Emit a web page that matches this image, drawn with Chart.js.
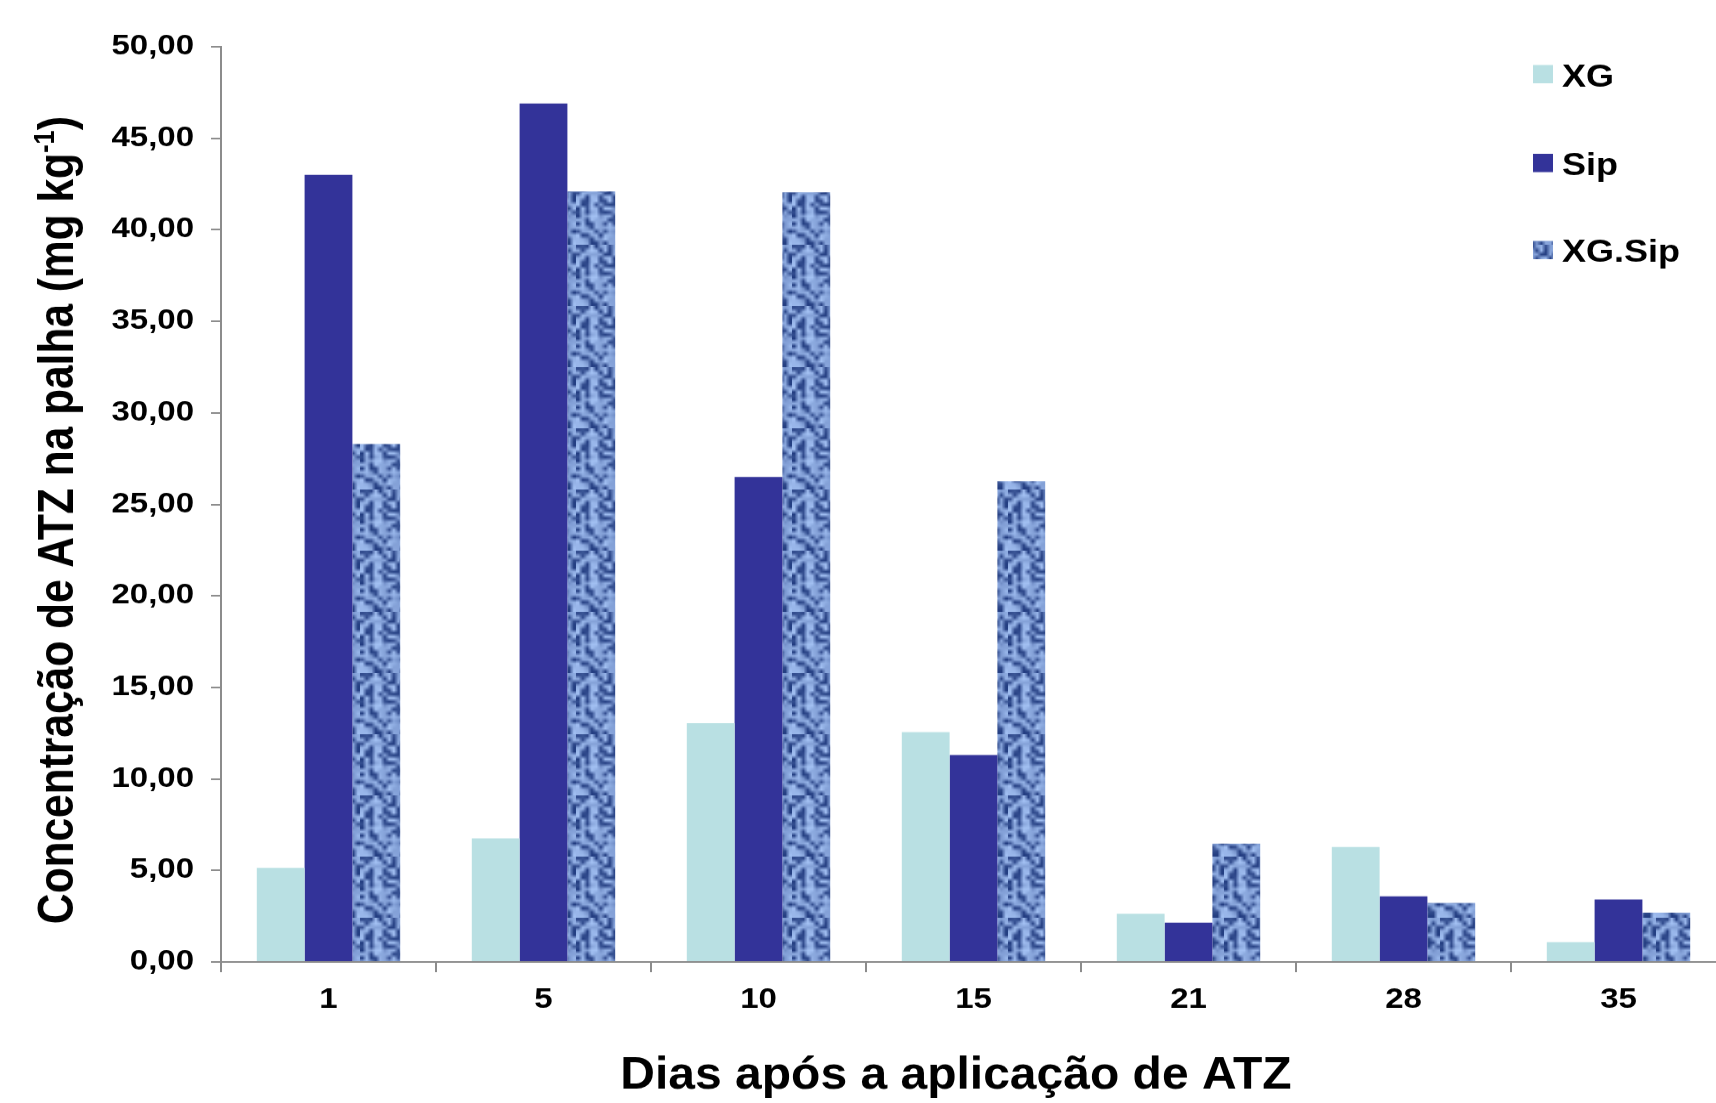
<!DOCTYPE html>
<html lang="pt">
<head>
<meta charset="UTF-8">
<title>Concentração de ATZ na palha</title>
<style>
  html, body { margin: 0; padding: 0; overflow: hidden; background: #fff; }
</style>
</head>
<body>
<!-- drawn taller than shown: the original text looks squeezed vertically -->
<canvas id="ctx" width="1730" height="1298" style="display:block;width:1730px;height:1103px;"></canvas>

<script src="https://cdn.jsdelivr.net/npm/chart.js"></script>
<script>
    // data
    const days = ['1', '5', '10', '15', '21', '28', '35'];
    const seriesNames = ['XG', 'Sip', 'XG.Sip'];
    const xgValues = [5.14, 6.76, 13.04, 12.56, 2.63, 6.28, 1.08];
    const sipValues = [43.0, 46.9, 26.5, 11.3, 2.15, 3.59, 3.41];
    const xgSipValues = [28.3, 42.1, 42.05, 26.26, 6.46, 3.23, 2.69];
    const yMin = 0, yMax = 50, yStep = 5;

    const xTitle = 'Dias após a aplicação de ATZ';
    const yTitle = 'Concentração de ATZ na palha (mg kg';

    const FONT = '"Liberation Sans", Arial, sans-serif';
    const axisGrey = '#8c8c8c';

    const canvas = document.getElementById('ctx');
    const ctx = canvas.getContext('2d');

    // woven texture for the XG.Sip bars: coarse blotches, then smoothed
    function makeWeave() {
        const n = 16;
        const small = document.createElement('canvas');
        small.width = n; small.height = n;
        const sg = small.getContext('2d');
        const img = sg.createImageData(n, n);
        const dark = [34, 60, 128], light = [166, 196, 246];
        for (let y = 0; y < n; y++) {
            for (let x = 0; x < n; x++) {
                let h = Math.imul(x + 3, 374761393) ^ Math.imul(y + 11, 668265263);
                h = Math.imul(h ^ (h >>> 13), 1274126177) >>> 0;
                h = Math.imul(h ^ (h >>> 16), 2246822519) >>> 0;
                let t = (h & 255) / 255;
                t = t < 0.35 ? t * 0.6 : 0.6 + t * 0.4;
                if (x % 3 === 2) t *= 0.8;
                const i = (y * n + x) * 4;
                for (let k = 0; k < 3; k++) img.data[i + k] = Math.round(dark[k] + (light[k] - dark[k]) * t);
                img.data[i + 3] = 255;
            }
        }
        sg.putImageData(img, 0, 0);
        const tile = document.createElement('canvas');
        tile.width = 72; tile.height = 72;
        const tg = tile.getContext('2d');
        tg.imageSmoothingEnabled = true;
        tg.drawImage(small, 0, 0, 72, 72);
        return ctx.createPattern(tile, 'repeat');
    }
    const weave = makeWeave();

    const colors = ['#b9e0e3', '#333399', weave];

    // titles and legend drawn by hand (superscript, legend sits inside plot)
    const textPlugin = {
        id: 'textPlugin',
        afterDraw(chart) {
            const c = chart.ctx;
            c.save();
            c.fillStyle = '#000';
            c.textBaseline = 'alphabetic';

            // x title, a little taller than the rest
            c.font = `bold 48px ${FONT}`;
            c.textAlign = 'center';
            c.translate(956, 1281);
            c.scale(1, 1.12);
            c.fillText(xTitle, 0, 0);
            c.setTransform(1, 0, 0, 1, 0, 0);

            // y title with kg^-1
            c.textAlign = 'left';
            const mainFont = `bold 50px ${FONT}`;
            const supFont = `bold 30px ${FONT}`;
            c.font = mainFont;
            const w1 = c.measureText(yTitle).width;
            const w3 = c.measureText(')').width;
            c.font = supFont;
            const w2 = c.measureText('-1').width;
            const total = w1 + w2 + w3;
            c.translate(73, 612);
            c.rotate(-Math.PI / 2);
            let x0 = -total / 2;
            c.font = mainFont;
            c.fillText(yTitle, x0, 0);
            c.font = supFont;
            c.fillText('-1', x0 + w1, -19);
            c.font = mainFont;
            c.fillText(')', x0 + w1 + w2, 0);
            c.setTransform(1, 0, 0, 1, 0, 0);

            // legend
            const boxTops = [76.5, 181, 283.5];
            const baselines = [102, 206, 308];
            c.font = `bold 36px ${FONT}`;
            chart.data.datasets.forEach((ds, i) => {
                c.fillStyle = ds.backgroundColor;
                c.fillRect(1533, boxTops[i], 20, 21.5);
                c.fillStyle = '#000';
                c.fillText(ds.label, 1562, baselines[i]);
            });
            c.restore();
        }
    };

    const tickFont = { family: FONT, size: 33, weight: 'bold' };

    let data = {
        labels: days,
        datasets: [
            { label: seriesNames[0], data: xgValues, backgroundColor: colors[0] },
            { label: seriesNames[1], data: sipValues, backgroundColor: colors[1] },
            { label: seriesNames[2], data: xgSipValues, backgroundColor: colors[2] }
        ]
    };

    let options = {
        responsive: false,
        animation: false,
        events: [],
        layout: { padding: { top: 55, right: 4, bottom: 0, left: 0 } },
        datasets: { bar: { categoryPercentage: 0.667, barPercentage: 1.0, borderWidth: 0 } },
        plugins: {
            legend: { display: false },
            tooltip: { enabled: false }
        },
        scales: {
            x: {
                grid: { offset: true, drawOnChartArea: false, tickLength: 12, color: axisGrey, lineWidth: 2 },
                border: { color: axisGrey, width: 2 },
                ticks: { color: '#000', font: tickFont, padding: 13, maxRotation: 0 },
                afterFit: s => { s.height = 166; }
            },
            y: {
                min: yMin,
                max: yMax,
                grid: { drawOnChartArea: false, tickLength: 10, color: axisGrey, lineWidth: 2 },
                border: { color: axisGrey, width: 2 },
                ticks: {
                    stepSize: yStep,
                    color: '#000',
                    font: tickFont,
                    padding: 17,
                    callback: v => v.toFixed(2).replace('.', ',')
                },
                afterFit: s => { s.width = 221; }
            }
        }
    };

    new Chart(ctx, {
        type: 'bar',
        data: data,
        options: options,
        plugins: [textPlugin]
    });
</script>
</body>
</html>
